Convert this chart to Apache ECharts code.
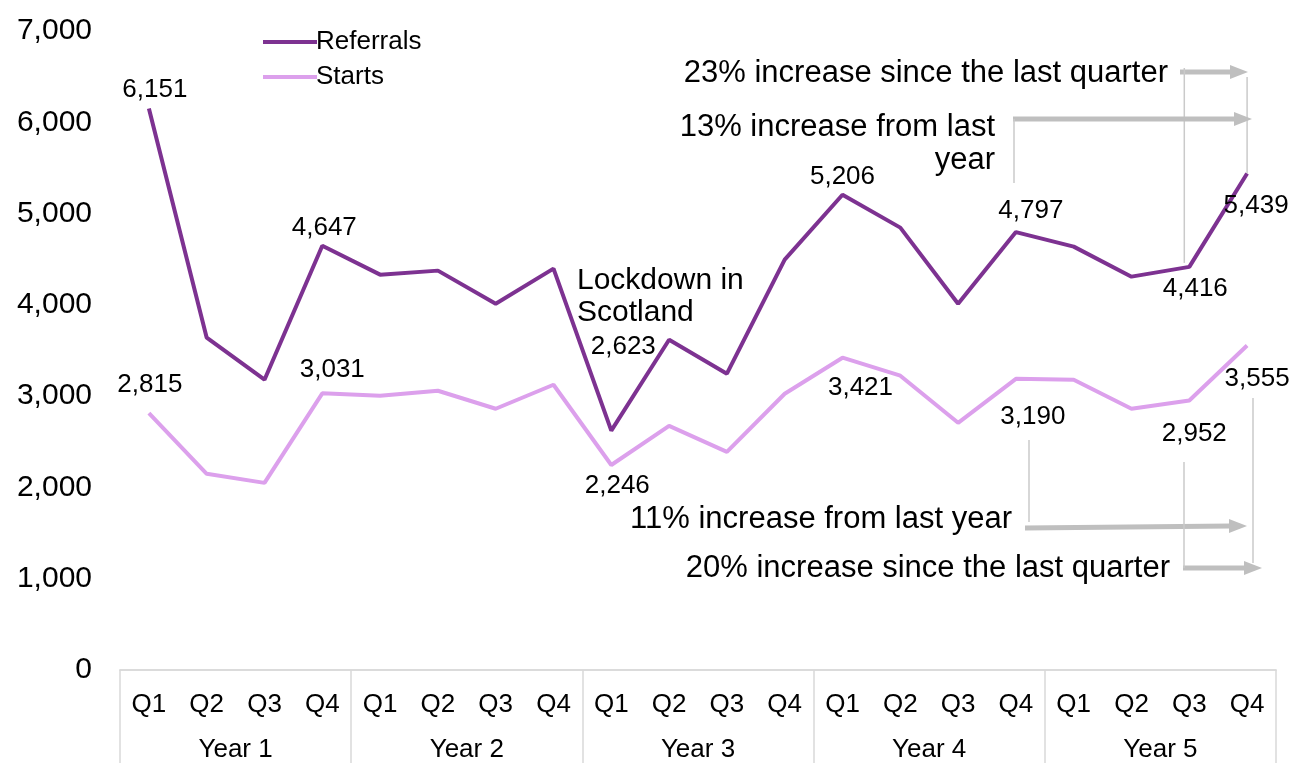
<!DOCTYPE html>
<html>
<head>
<meta charset="utf-8">
<title>Referrals and Starts by quarter</title>
<script src="https://cdn.jsdelivr.net/npm/echarts@6/dist/echarts.min.js"></script>
<style>
  html, body { margin: 0; padding: 0; background: #fff; }
  #chart { width: 1295px; height: 763px; }
</style>
</head>
<body>
<div id="chart"></div>
<script>
// Quarterly referrals and starts over five years
const quarters = ['Q1', 'Q2', 'Q3', 'Q4', 'Q1', 'Q2', 'Q3', 'Q4', 'Q1', 'Q2', 'Q3', 'Q4',
                  'Q1', 'Q2', 'Q3', 'Q4', 'Q1', 'Q2', 'Q3', 'Q4'];
const years = ['Year 1', 'Year 2', 'Year 3', 'Year 4', 'Year 5'];

const referrals = [6151, 3640, 3180, 4647, 4331, 4375, 4013, 4397, 2623, 3618,
                   3246, 4496, 5206, 4846, 4013, 4797, 4638, 4309, 4416, 5439];
const starts = [2815, 2149, 2050, 3031, 3004, 3059, 2862, 3125, 2246, 2675,
                2390, 3026, 3421, 3224, 2708, 3190, 3180, 2862, 2952, 3555];

const yTicks = [0, 1000, 2000, 3000, 4000, 5000, 6000, 7000];

// Which points carry a value label, and where that label sits
const referralLabels = {
  0: { position: 'top', offset: [6, -1] },
  3: { position: 'top', offset: [2, 0] },
  8: { position: 'top', offset: [12, -66] },
  12: { position: 'top', offset: [0, 0] },
  15: { position: 'top', offset: [15, -3] },
  18: { position: 'bottom', offset: [6, 4] },
  19: { position: 'bottom', offset: [9, 14] }
};
const startLabels = {
  0: { position: 'top', offset: [1, -10] },
  3: { position: 'top', offset: [10, -5] },
  8: { position: 'bottom', offset: [6, 3] },
  12: { position: 'bottom', offset: [18, 12] },
  15: { position: 'bottom', offset: [17, 20] },
  18: { position: 'bottom', offset: [5, 15] },
  19: { position: 'bottom', offset: [10, 15] }
};

const FONT = '"Liberation Sans", Arial, Helvetica, sans-serif';
const fmt = v => Number(v).toLocaleString('en-US');

function withLabels(values, placement) {
  return values.map((v, i) => {
    const p = placement[i];
    if (!p) return { value: v, label: { show: false } };
    return {
      value: v,
      label: {
        show: true,
        position: p.position,
        distance: 5,
        offset: p.offset,
        formatter: d => fmt(d.value),
        color: '#000',
        fontSize: 26,
        fontFamily: FONT
      }
    };
  });
}

const chart = echarts.init(document.getElementById('chart'), null, { renderer: 'canvas' });

const option = {
  backgroundColor: '#fff',
  animation: false,
  grid: { left: 120, right: 19, top: 31, bottom: 93, containLabel: false, outerBoundsMode: 'none' },
  legend: {
    orient: 'vertical',
    left: 258,
    top: 24,
    itemWidth: 54,
    itemHeight: 4,
    itemGap: 9,
    icon: 'rect',
    textStyle: { fontSize: 26, fontFamily: FONT, color: '#000', lineHeight: 26, padding: [0, 0, 0, -6] },
    data: ['Referrals', 'Starts']
  },
  xAxis: [
    {
      type: 'category',
      data: quarters,
      boundaryGap: true,
      axisLine: { show: true, lineStyle: { color: '#D9D9D9', width: 1.5 } },
      axisTick: { show: false },
      axisLabel: { interval: 0, margin: 22, fontSize: 26, fontFamily: FONT, color: '#000' }
    },
    {
      type: 'category',
      data: years,
      position: 'bottom',
      boundaryGap: true,
      axisLine: { show: true, lineStyle: { color: '#D9D9D9', width: 1.5 } },
      axisTick: { show: true, length: 93, lineStyle: { color: '#D9D9D9', width: 1.5 } },
      axisLabel: { interval: 0, margin: 67, fontSize: 26, fontFamily: FONT, color: '#000' }
    }
  ],
  yAxis: {
    type: 'value',
    min: yTicks[0],
    max: yTicks[yTicks.length - 1],
    interval: 1000,
    axisLine: { show: false },
    axisTick: { show: false },
    splitLine: { show: false },
    axisLabel: { margin: 28, fontSize: 30, fontFamily: FONT, color: '#000', formatter: v => fmt(v) }
  },
  series: [
    {
      name: 'Referrals',
      type: 'line',
      xAxisIndex: 0,
      data: withLabels(referrals, referralLabels),
      symbol: 'circle',
      symbolSize: 0.1,
      showSymbol: true,
      lineStyle: { color: '#7D3291', width: 4 },
      itemStyle: { color: '#7D3291' },
      z: 3
    },
    {
      name: 'Starts',
      type: 'line',
      xAxisIndex: 0,
      data: withLabels(starts, startLabels),
      symbol: 'circle',
      symbolSize: 0.1,
      showSymbol: true,
      lineStyle: { color: '#DCA0EC', width: 4 },
      itemStyle: { color: '#DCA0EC' },
      z: 2
    }
  ]
};

chart.setOption(option);

// Annotations: change notes with arrows pointing at the final quarter
const GREY = '#BFBFBF';
const THIN = '#CACACA';

function arrow(x1, y1, x2, y2) {
  const head = 18, half = 7;
  return {
    type: 'group',
    children: [
      { type: 'line', shape: { x1: x1, y1: y1, x2: x2 - head + 2, y2: y2 },
        style: { stroke: GREY, lineWidth: 5 } },
      { type: 'polygon', shape: { points: [[x2 - head, y2 - half], [x2, y2], [x2 - head, y2 + half]] },
        style: { fill: GREY } }
    ]
  };
}
function vline(x, y1, y2) {
  return { type: 'line', shape: { x1: x, y1: y1, x2: x, y2: y2 },
           style: { stroke: THIN, lineWidth: 1.5 } };
}
function note(text, x, y, align) {
  return { type: 'text', style: { text: text, x: x, y: y, fill: '#000',
           font: '31px ' + FONT, align: align || 'right', verticalAlign: 'middle' } };
}

const lastRef = chart.convertToPixel({ seriesIndex: 0 }, [19, referrals[19]]);
const prevRef = chart.convertToPixel({ seriesIndex: 0 }, [18, referrals[18]]);

chart.setOption({
  graphic: [
    note('23% increase since the last quarter', 1168, 73),
    arrow(1180, 72, 1248, 72),
    vline(prevRef[0] - 5, 68, prevRef[1] - 4),
    vline(lastRef[0], 77, lastRef[1]),

    note('13% increase from last', 995, 127),
    note('year', 995, 160),
    arrow(1013, 119, 1252, 119),
    vline(1014, 119, 183),

    { type: 'text', style: { text: 'Lockdown in\nScotland', x: 577, y: 265, fill: '#000',
      font: '30px ' + FONT, lineHeight: 32, align: 'left', verticalAlign: 'top' } },

    note('11% increase from last year', 1012, 519),
    arrow(1025, 528, 1247, 526),
    vline(1029, 440, 522),

    note('20% increase since the last quarter', 1170, 568),
    arrow(1183, 568, 1262, 568),
    vline(1184, 462, 568),
    vline(1253, 398, 563)
  ]
});
</script>
</body>
</html>
